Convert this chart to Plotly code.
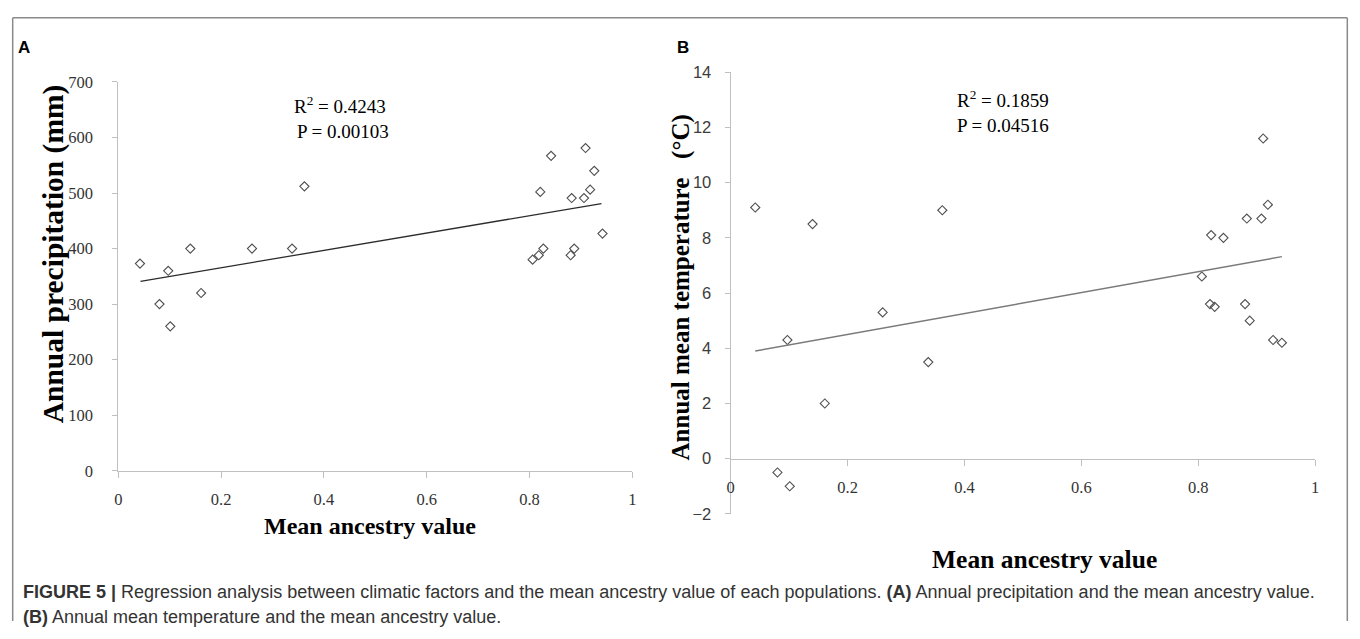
import plotly.graph_objects as go

# page is 1360x639; the browser body adds an 8px margin, so the figure is 1344x623
PAGE_OFF = 8
FW, FH = 1344, 623

# ---- data ----
ancestry = [0.042, 0.080, 0.097, 0.101, 0.140, 0.161, 0.260, 0.338, 0.362,
            0.806, 0.818, 0.821, 0.827, 0.842, 0.880, 0.882, 0.887, 0.906,
            0.909, 0.918, 0.926, 0.942]
precip = [373, 300, 360, 260, 400, 320, 400, 400, 512,
          380, 388, 502, 400, 567, 388, 491, 400, 491,
          581, 506, 540, 427]
ancestry_b = [0.042, 0.080, 0.097, 0.101, 0.140, 0.161, 0.260, 0.338, 0.362,
              0.806, 0.820, 0.822, 0.828, 0.843, 0.880, 0.883, 0.888, 0.908,
              0.911, 0.919, 0.928, 0.943]
temp = [9.1, -0.5, 4.3, -1.0, 8.5, 2.0, 5.3, 3.5, 9.0,
        6.6, 5.6, 8.1, 5.5, 8.0, 5.6, 8.7, 5.0, 8.7,
        11.6, 9.2, 4.3, 4.2]
trend_x_a = [0.043, 0.940]
trend_a = [341, 481]
trend_x_b = [0.042, 0.943]
trend_b = [3.90, 7.32]

x_ticks = [0, 0.2, 0.4, 0.6, 0.8, 1]
x_ticklabels = ["0", "0.2", "0.4", "0.6", "0.8", "1"]
ya_ticks = [0, 100, 200, 300, 400, 500, 600, 700]
yb_ticks = [-2, 0, 2, 4, 6, 8, 10, 12, 14]


def fx(p):
    return (p - PAGE_OFF) / FW


def fy(p):
    return 1 - (p - PAGE_OFF) / FH


SERIF = "Liberation Serif"
SANS = "Liberation Sans"
AXC = "#c0c0c0"
TICKC = "#333333"

fig = go.Figure()

marker = dict(symbol="diamond-open", size=7, color="#505050", line=dict(width=1.1, color="#505050"))

fig.add_trace(go.Scatter(x=ancestry, y=precip, mode="markers", marker=marker,
                         xaxis="x", yaxis="y", showlegend=False))
fig.add_trace(go.Scatter(x=trend_x_a, y=trend_a, mode="lines",
                         line=dict(color="#2b2b2b", width=1.3),
                         xaxis="x", yaxis="y", showlegend=False))
fig.add_trace(go.Scatter(x=ancestry_b, y=temp, mode="markers", marker=marker,
                         xaxis="x2", yaxis="y2", showlegend=False))
fig.add_trace(go.Scatter(x=trend_x_b, y=trend_b, mode="lines",
                         line=dict(color="#7a7a7a", width=1.5),
                         xaxis="x2", yaxis="y2", showlegend=False))

# panel geometry (page pixels)
ax_l, ax_r, ay_t, ay_b = 115, 632, 75, 476          # y: 700 -> 75, 0 -> 476
bx_l, bx_r, by_t, by_b = 731, 1319, 65, 520.5       # y: 14 -> 65, -2 -> 520.5
b_zero_px = by_t + (by_b - by_t) * 14 / 16

serif_tick = dict(family=SERIF, size=16.5, color=TICKC)
sans_tick = dict(family=SANS, size=16.5, color="#3c3c3c")

common_x = dict(range=[0, 1], tickvals=x_ticks, ticktext=x_ticklabels, showgrid=False,
                zeroline=False, showline=True, linecolor=AXC, linewidth=1.3,
                ticks="outside", ticklen=6, tickcolor=AXC, tickwidth=1.3,
                tickfont=serif_tick, ticklabelstandoff=7)
common_y = dict(showgrid=False, zeroline=False, showline=True, linecolor=AXC, linewidth=1.3,
                ticks="outside", ticklen=5, tickcolor=AXC, tickwidth=1.3)

fig.update_layout(
    width=FW, height=FH,
    margin=dict(l=0, r=0, t=0, b=0),
    paper_bgcolor="white", plot_bgcolor="white",
    xaxis=dict(domain=[fx(ax_l), fx(ax_r)], anchor="y", **common_x),
    yaxis=dict(domain=[fy(ay_b), fy(ay_t)], range=[0, 700], tickvals=ya_ticks,
               anchor="x", tickfont=serif_tick, ticklabelstandoff=16, **common_y),
    xaxis2=dict(domain=[fx(bx_l), fx(bx_r)], anchor="free", position=fy(b_zero_px), **common_x),
    yaxis2=dict(domain=[fy(by_b), fy(by_t)], range=[-2, 14], tickvals=yb_ticks,
                anchor="x2", tickfont=sans_tick, ticklabelstandoff=10, **common_y),
)

ann = []
# panel letters
ann.append(dict(x=fx(20), y=fy(39), text="<b>A</b>", font=dict(family=SANS, size=17, color="black")))
ann.append(dict(x=fx(683), y=fy(39), text="<b>B</b>", font=dict(family=SANS, size=17, color="black")))
# axis titles
ann.append(dict(x=fx(368), y=fy(533), text="<b>Mean ancestry value</b>",
                font=dict(family=SERIF, size=24, color="black")))
ann.append(dict(x=fx(1047), y=fy(568), text="<b>Mean ancestry value</b>",
                font=dict(family=SERIF, size=25.5, color="black")))
ann.append(dict(x=fx(50), y=fy(252), text="<b>Annual precipitation (mm)</b>", textangle=-90,
                font=dict(family=SERIF, size=29.5, color="black")))
ann.append(dict(x=fx(681), y=fy(287), text="<b>Annual mean temperature   (°C)</b>", textangle=-90,
                font=dict(family=SERIF, size=25, color="black")))
# statistics
ann.append(dict(x=fx(290), y=fy(99), text="R<sup>2</sup> = 0.4243", xanchor="left",
                font=dict(family=SERIF, size=19, color="black")))
ann.append(dict(x=fx(293), y=fy(126), text="P = 0.00103", xanchor="left",
                font=dict(family=SERIF, size=19, color="black")))
ann.append(dict(x=fx(957), y=fy(93), text="R<sup>2</sup> = 0.1859", xanchor="left",
                font=dict(family=SERIF, size=19, color="black")))
ann.append(dict(x=fx(957), y=fy(120), text="P = 0.04516", xanchor="left",
                font=dict(family=SERIF, size=19, color="black")))
# caption
ann.append(dict(x=fx(17), y=fy(601), xanchor="left",
                text="<b>FIGURE 5 |</b> Regression analysis between climatic factors and the mean ancestry value of each populations. "
                     "<b>(A)</b> Annual precipitation and the mean ancestry value.",
                font=dict(family=SANS, size=18, color="#333333")))
ann.append(dict(x=fx(17), y=fy(627), xanchor="left",
                text="<b>(B)</b> Annual mean temperature and the mean ancestry value.",
                font=dict(family=SANS, size=18, color="#333333")))

for a in ann:
    a.setdefault("xanchor", "center")
    a.setdefault("yanchor", "middle")
    a.update(xref="paper", yref="paper", showarrow=False)
fig.update_layout(annotations=ann)

# outer frame (left, top, right edges)
frame = dict(type="line", xref="paper", yref="paper", line=dict(color="#8a8a8a", width=1.5))
fig.add_shape(x0=fx(8.7), x1=fx(8.7), y0=0, y1=fy(8.7), **frame)
fig.add_shape(x0=fx(8.7), x1=fx(1351.3), y0=fy(8.7), y1=fy(8.7), **frame)
fig.add_shape(x0=fx(1351.3), x1=fx(1351.3), y0=0, y1=fy(8.7), **frame)

fig.write_html("out.html")
